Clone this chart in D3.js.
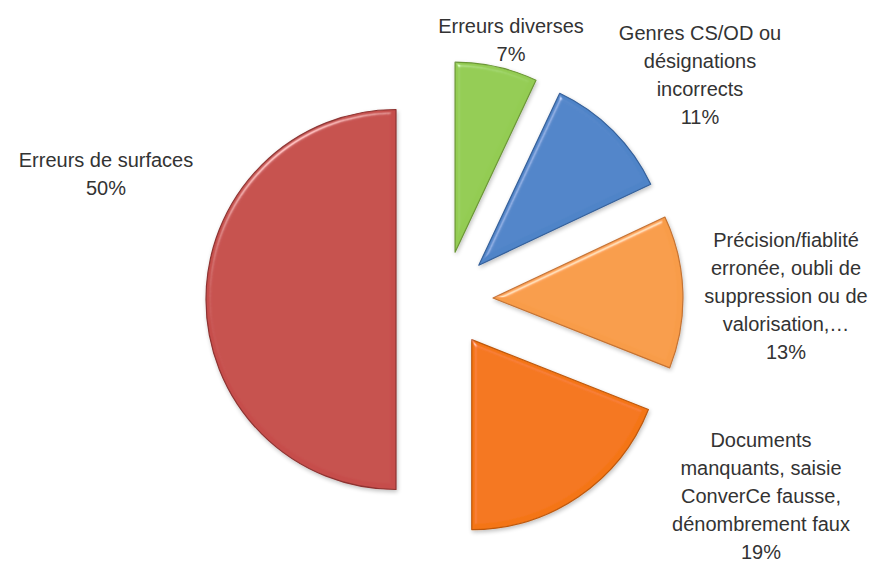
<!DOCTYPE html>
<html><head><meta charset="utf-8">
<script src="https://cdn.jsdelivr.net/npm/d3@7"></script>
<style>
html,body{margin:0;padding:0;background:#fff;}
svg{display:block;}
text{font-family:"Liberation Sans",Arial,sans-serif;fill:#333333;}
</style></head>
<body>
<svg id="chart" width="878" height="563"></svg>
<script>
const categories = [
  "Erreurs diverses",
  "Genres CS/OD ou désignations incorrects",
  "Précision/fiablité erronée, oubli de suppression ou de valorisation,…",
  "Documents manquants, saisie ConverCe fausse, dénombrement faux",
  "Erreurs de surfaces"
];
const values = [7, 11, 13, 19, 50];
const labelLines = [
  ["Erreurs diverses", "7%"],
  ["Genres CS/OD ou", "désignations", "incorrects", "11%"],
  ["Précision/fiablité", "erronée, oubli de", "suppression ou de", "valorisation,…", "13%"],
  ["Documents", "manquants, saisie", "ConverCe fausse,", "dénombrement faux", "19%"],
  ["Erreurs de surfaces", "50%"]
];
const colors = ["#93CC52", "#4F84C8", "#F89C48", "#F47514", "#C64E4B"];
const edgeColors = ["#6B9636", "#35609A", "#C47334", "#BD580C", "#8E3331"];
const labelPos = [[511, 26], [700, 33], [786, 240], [761, 440], [106, 160]];

const svg = d3.select("#chart");
const cx = 444.5, cy = 299.5, R = 190, explode = 48.5;

const defs = svg.append("defs");
const f = defs.append("filter").attr("id", "bevel").attr("x", "-10%").attr("y", "-10%").attr("width", "120%").attr("height", "120%");
f.append("feGaussianBlur").attr("in", "SourceAlpha").attr("stdDeviation", 2.5).attr("result", "blur");
f.append("feSpecularLighting").attr("in", "blur").attr("surfaceScale", 4).attr("specularConstant", 1)
  .attr("specularExponent", 40).attr("lighting-color", "#ffffff").attr("result", "spec")
  .append("feDistantLight").attr("azimuth", 235).attr("elevation", 40);
f.append("feComposite").attr("in", "spec").attr("in2", "SourceAlpha").attr("operator", "in").attr("result", "specIn");
f.append("feComposite").attr("in", "SourceGraphic").attr("in2", "specIn").attr("operator", "arithmetic")
  .attr("k1", 0).attr("k2", 1).attr("k3", 0.45).attr("k4", 0).attr("result", "lit");
f.append("feGaussianBlur").attr("in", "SourceAlpha").attr("stdDeviation", 2).attr("result", "sb");
f.append("feOffset").attr("in", "sb").attr("dx", 1).attr("dy", 2).attr("result", "so");
f.append("feComponentTransfer").attr("in", "so").attr("result", "sh")
  .append("feFuncA").attr("type", "linear").attr("slope", 0.25);
const m = f.append("feMerge");
m.append("feMergeNode").attr("in", "sh");
m.append("feMergeNode").attr("in", "lit");

const pie = d3.pie().sort(null).value(d => d);
const arcs = pie(values);
const arc = d3.arc().innerRadius(0).outerRadius(R);

const g = svg.append("g").attr("transform", `translate(${cx},${cy})`);
g.selectAll("path.slice").data(arcs).enter().append("path")
  .attr("class", "slice")
  .attr("transform", d => {
    const a = (d.startAngle + d.endAngle) / 2;
    return `translate(${explode * Math.sin(a)},${-explode * Math.cos(a)})`;
  })
  .attr("d", arc)
  .attr("fill", (d, i) => colors[i])
  .attr("stroke", (d, i) => edgeColors[i])
  .attr("stroke-width", 1.2)
  .attr("stroke-linejoin", "round")
  .attr("filter", "url(#bevel)");

const lg = svg.append("g");
labelLines.forEach((lines, i) => {
  const t = lg.append("text").attr("x", labelPos[i][0]).attr("y", labelPos[i][1])
    .attr("text-anchor", "middle").attr("font-size", 20);
  lines.forEach((ln, j) => {
    t.append("tspan").attr("x", labelPos[i][0]).attr("dy", j === 0 ? "0.35em" : 28).text(ln);
  });
});
</script>
</body></html>
